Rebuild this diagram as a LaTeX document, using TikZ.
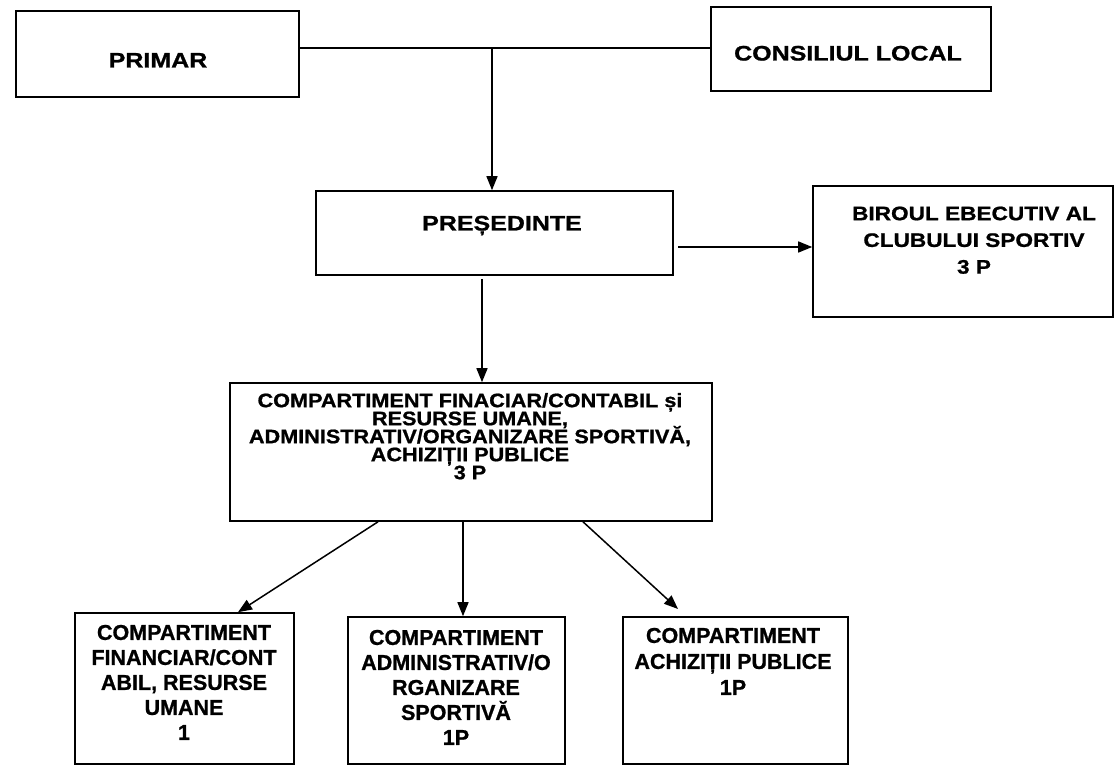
\documentclass[tikz,border=0pt]{standalone}
\usepackage{fontspec}
\setmainfont{Liberation Sans}
\newfontfamily\fTop[FakeStretch=1.19,FakeBold=1]{Liberation Sans Bold}
\newfontfamily\fBir[FakeStretch=1.16,FakeBold=1]{Liberation Sans Bold}
\newfontfamily\fMid[FakeStretch=1.11,FakeBold=1]{Liberation Sans Bold}
\newfontfamily\fLow[FakeBold=1]{Liberation Sans Bold}
\newcommand\myl[1]{\smash{#1}}
\usetikzlibrary{arrows.meta}
\begin{document}
\begin{tikzpicture}[x=1pt,y=-1pt,
  box/.style={draw,line width=1.6pt,rectangle,inner sep=0pt},
  txt/.style={inner sep=0pt,align=center,anchor=north},
  toptxt/.style={inner sep=0pt,anchor=base,font={\fTop\fontsize{21}{25}\selectfont}},
  lowtxt/.style={txt,font={\fLow\fontsize{21.5}{25}\selectfont}},
  conn/.style={line width=1.5pt},
  arr/.style={line width=1.5pt,-{Triangle[length=14pt,width=11pt]}}]
\useasboundingbox (0,0) rectangle (1114,767);
\fill[white] (0,0) rectangle (1114,767);

% boxes
\node[box,minimum width=283pt,minimum height=86pt] (primar) at (157.5,54) {};
\node[box,minimum width=280pt,minimum height=84pt] (consiliul) at (851,49) {};
\node[box,minimum width=357pt,minimum height=84pt] (presedinte) at (494.5,233) {};
\node[box,minimum width=300pt,minimum height=131pt] (biroul) at (963,251.5) {};
\node[box,minimum width=482pt,minimum height=138pt] (main) at (471,452) {};
\node[box,minimum width=219pt,minimum height=151pt] (box1) at (184.5,688.5) {};
\node[box,minimum width=217pt,minimum height=147pt] (box2) at (456.5,690.5) {};
\node[box,minimum width=225pt,minimum height=147pt] (box3) at (735.5,690.5) {};

% texts (north anchor = baseline of the first line)
\node[toptxt] (primarT) at (158,67.5) {PRIMAR};
\node[toptxt] (consiliulT) at (848,60.5) {CONSILIUL LOCAL};
\node[toptxt] (presedinteT) at (502,230.5) {PREȘEDINTE};
\node[txt,font={\fBir\fontsize{19.5}{26.7}\selectfont}] (biroulT) at (974,220)
  {\myl{BIROUL EBECUTIV AL}\\\myl{CLUBULUI SPORTIV}\\\myl{3 P}};
\node[txt,font={\fMid\fontsize{19.5}{18}\selectfont}] (mainT) at (470,407)
  {\myl{COMPARTIMENT FINACIAR/CONTABIL și}\\\myl{RESURSE UMANE,}\\\myl{ADMINISTRATIV/ORGANIZARE SPORTIVĂ,}\\\myl{ACHIZIȚII PUBLICE}\\\myl{3 P}};
\node[lowtxt] (box1T) at (184,639.7)
  {\myl{COMPARTIMENT}\\\myl{FINANCIAR/CONT}\\\myl{ABIL, RESURSE}\\\myl{UMANE}\\\myl{1}};
\node[lowtxt] (box2T) at (456,644.7)
  {\myl{COMPARTIMENT}\\\myl{ADMINISTRATIV/O}\\\myl{RGANIZARE}\\\myl{SPORTIVĂ}\\\myl{1P}};
\node[lowtxt,font={\fLow\fontsize{21.5}{26}\selectfont}] (box3T) at (733,642.7)
  {\myl{COMPARTIMENT}\\\myl{ACHIZIȚII PUBLICE}\\\myl{1P}};

% connectors
\coordinate (j) at (492,48);
\draw[conn] (primar.east |- j) -- (consiliul.west |- j);
\draw[arr] (j) -- (presedinte.north -| j);
\coordinate (hb) at (678,247);
\draw[arr] (hb) -- (biroul.west |- hb);
\coordinate (vm) at (482,279);
\draw[arr] (vm) -- (main.north -| vm);
\coordinate (a1s) at (378,0);
\coordinate (a1e) at (238,0);
\draw[arr] (main.south -| a1s) -- (box1.north -| a1e);
\coordinate (a2) at (463,0);
\draw[arr] (main.south -| a2) -- (box2.north -| a2);
\coordinate (a3s) at (583,0);
\coordinate (a3e) at (678,609);
\draw[arr] (main.south -| a3s) -- (a3e);
\end{tikzpicture}
\end{document}
